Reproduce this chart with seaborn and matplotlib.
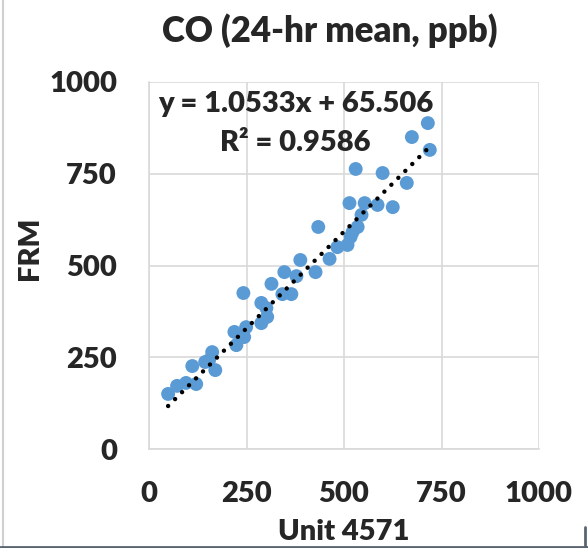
import matplotlib
matplotlib.use("Agg")
import matplotlib.pyplot as plt
import seaborn as sns
import numpy as np
import pandas as pd
from matplotlib.lines import Line2D

# Data
unit_4571 = [49, 72, 95, 121, 111, 144, 162, 170, 154, 219, 224, 244, 249, 242,
             288, 301, 303, 288, 314, 342, 365, 347, 388, 378, 427, 463, 483,
             509, 517, 535, 545, 514, 553, 586, 625, 530, 599, 661, 674, 715,
             720, 434, 522]
frm = [150, 172, 180, 177, 226, 237, 264, 215, 242, 319, 283, 305, 332, 425,
       398, 384, 360, 343, 450, 422, 422, 482, 515, 471, 482, 518, 550,
       556, 578, 605, 638, 670, 670, 665, 659, 763, 752, 725, 850, 888,
       815, 605, 591]
slope = 1.0533
intercept = 65.506
r_squared = 0.9586
ticks = [0, 250, 500, 750, 1000]
title = "CO (24-hr mean, ppb)"
x_label = "Unit 4571"
y_label = "FRM"

df = pd.DataFrame({"x": unit_4571, "y": frm})

sns.set_theme(style="white")
plt.rcParams["font.family"] = ["Lato", "DejaVu Sans"]

fig = plt.figure(figsize=(5.88, 5.48), dpi=100)
ax = fig.add_axes([149 / 588, 1 - 449 / 548, 390 / 588, 367 / 548])

grid_c = "#D9D9D9"
ax.set_xlim(0, 1000)
ax.set_ylim(0, 1000)
ax.set_xticks(ticks)
ax.set_yticks(ticks)
ax.grid(True, color=grid_c, linewidth=1.2)
ax.set_axisbelow(True)
for side in ["top", "right"]:
    ax.spines[side].set_visible(False)
for side in ["left", "bottom"]:
    ax.spines[side].set_color(grid_c)
    ax.spines[side].set_linewidth(1.2)

sns.scatterplot(data=df, x="x", y="y", ax=ax, s=100, color="#5B9BD5",
                edgecolor="none", linewidth=0, zorder=3)

xs = np.array([min(unit_4571), max(unit_4571)])
ax.plot(xs, slope * xs + intercept, color="black", linewidth=3.2,
        linestyle=(0, (0.01, 2.2)), dash_capstyle="round", zorder=4)

fw = "heavy"
ax.tick_params(axis="both", length=0, pad=23, labelsize=21)
ax.set_xticklabels([str(t) for t in ticks])
ax.set_yticklabels([str(t) for t in ticks])
for lab in ax.get_xticklabels() + ax.get_yticklabels():
    lab.set_fontweight(fw)

ax.set_xlabel(x_label, fontsize=21, fontweight=fw, labelpad=9)
ax.set_ylabel(y_label, fontsize=21, fontweight=fw)
ax.yaxis.set_label_coords(-0.272, 0.548)

ax.text(375, 940, f"y = {slope}x + {intercept}", fontsize=21,
        fontweight=fw, ha="center", va="center", zorder=5)
ax.text(375, 834, f"R² = {r_squared}", fontsize=21,
        fontweight=fw, ha="center", va="center", zorder=5)

fig.text(330 / 588, 1 - 31 / 548, title, fontsize=25, fontweight=fw,
         ha="center", va="center")

fig.add_artist(Line2D([3 / 588, 3 / 588], [0, 1], color="#D0D0D0",
                      linewidth=1.5, transform=fig.transFigure))
fig.add_artist(Line2D([0, 1], [1.5 / 548, 1.5 / 548], color="#5A6470",
                      linewidth=2, transform=fig.transFigure))
fig.add_artist(Line2D([585 / 588, 585 / 588], [0, 21 / 548], color="#5A6470",
                      linewidth=2, transform=fig.transFigure))

fig.savefig("out.png", dpi=100)
